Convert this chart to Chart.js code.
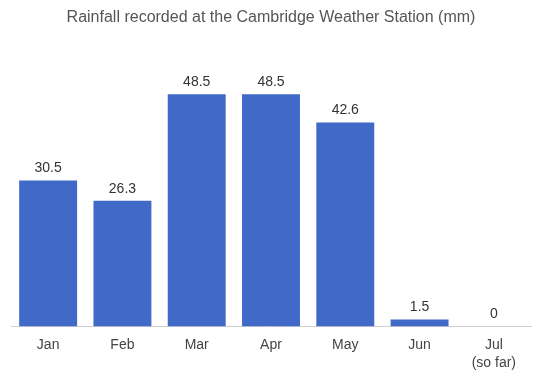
<!DOCTYPE html>
<html>
<head>
<meta charset="utf-8">
<style>
  html, body { margin: 0; padding: 0; background: #fff; }
  #wrap { width: 541px; height: 378px; }
</style>
</head>
<body>
<div id="wrap"><canvas id="rainChart" width="541" height="378"></canvas></div>

<script src="https://cdn.jsdelivr.net/npm/chart.js"></script>
<script>
  const months = ["Jan", "Feb", "Mar", "Apr", "May", "Jun", ["Jul", "(so far)"]];
  const rainfall = [30.5, 26.3, 48.5, 48.5, 42.6, 1.5, 0];

  // draws the value above each bar
  const valueLabels = {
    id: "valueLabels",
    afterDatasetsDraw(chart) {
      const ctx = chart.ctx;
      const meta = chart.getDatasetMeta(0);
      ctx.save();
      ctx.font = "14px 'Liberation Sans', Arial, sans-serif";
      ctx.fillStyle = "#333";
      ctx.textAlign = "center";
      ctx.textBaseline = "bottom";
      meta.data.forEach(function (bar, i) {
        ctx.fillText(String(rainfall[i]), bar.x, bar.y - 5);
      });
      ctx.restore();
    },
  };

  const ctx = document.getElementById("rainChart").getContext("2d");

  new Chart(ctx, {
    type: "bar",
    data: {
      labels: months,
      datasets: [
        {
          label: "Rainfall (mm)",
          data: rainfall,
          backgroundColor: "#4169c8",
          borderWidth: 0,
          barPercentage: 0.78,
          categoryPercentage: 1.0,
        },
      ],
    },
    options: {
      responsive: false,
      animation: false,
      layout: {
        padding: { left: 11, right: 10, top: 0, bottom: -3 },
      },
      plugins: {
        legend: { display: false },
        tooltip: { enabled: false },
        title: {
          display: true,
          text: "Rainfall recorded at the Cambridge Weather Station (mm)",
          color: "#555",
          font: { family: "'Liberation Sans', Arial, sans-serif", size: 16, weight: "normal" },
          padding: { top: 8, bottom: 36 },
        },
      },
      scales: {
        x: {
          grid: { display: false, drawTicks: false },
          border: { display: true, color: "#d0d0d0", width: 1 },
          ticks: {
            color: "#444",
            padding: 9,
            font: { family: "'Liberation Sans', Arial, sans-serif", size: 14, lineHeight: 1.3 },
          },
        },
        y: {
          display: false,
          min: 0,
          max: 55,
        },
      },
    },
    plugins: [valueLabels],
  });
</script>
</body>
</html>
